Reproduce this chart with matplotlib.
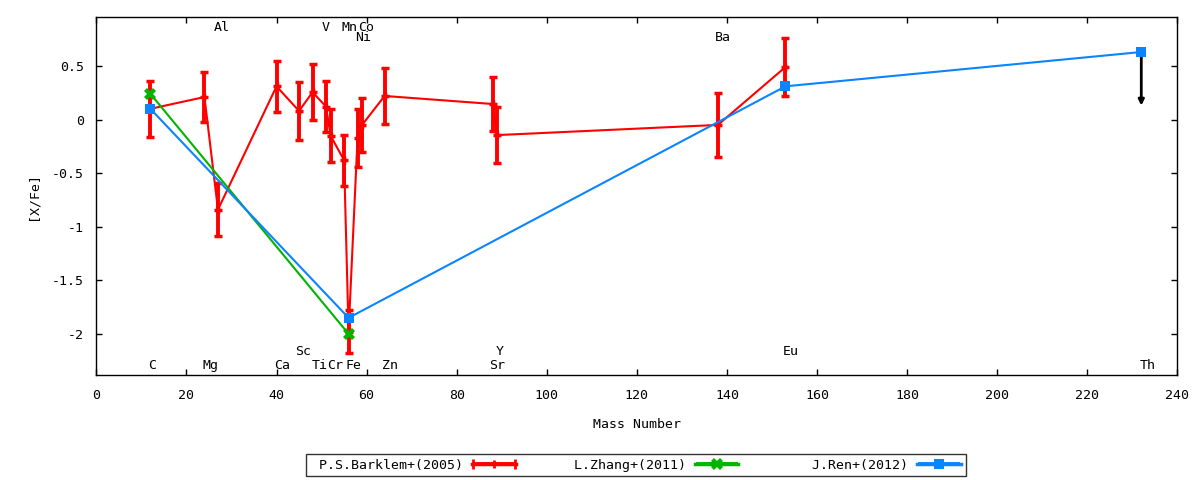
import numpy as np
import matplotlib
matplotlib.use("Agg")
import matplotlib.pyplot as plt
from matplotlib.ticker import FuncFormatter, MultipleLocator
from matplotlib.container import ErrorbarContainer
from matplotlib.legend_handler import HandlerErrorbar

# ---------------- data ----------------
barklem_mass = [12, 24, 27, 40, 45, 48, 51, 52, 55, 56, 58, 59, 64, 88, 89, 138, 153]
barklem_xfe = [0.10, 0.21, -0.84, 0.31, 0.08, 0.255, 0.12, -0.15, -0.38, -1.98,
               -0.17, -0.05, 0.22, 0.145, -0.145, -0.05, 0.49]
barklem_err = [0.26, 0.23, 0.25, 0.24, 0.27, 0.26, 0.24, 0.25, 0.24, 0.20,
               0.27, 0.255, 0.265, 0.25, 0.265, 0.30, 0.27]

zhang_mass = [12, 56]
zhang_xfe = [0.24, -2.00]

ren_mass = [12, 56, 153, 232]
ren_xfe = [0.10, -1.85, 0.31, 0.63]
ren_th_limit_to = 0.13   # upper-limit arrow end for Th

elements = ["C", "Mg", "Al", "Ca", "Sc", "Ti", "V", "Cr", "Mn", "Fe", "Co", "Ni",
            "Zn", "Sr", "Y", "Ba", "Eu", "Th"]
label_x = [12.3, 25.3, 27.9, 41.2, 46.0, 49.5, 51.0, 53.0, 56.2, 57.1, 59.8, 59.2,
           65.3, 89.0, 89.5, 139.0, 154.1, 233.5]
label_y = [-2.29, -2.29, 0.86, -2.29, -2.16, -2.29, 0.86, -2.29, 0.86, -2.29, 0.86, 0.77,
           -2.29, -2.29, -2.16, 0.77, -2.16, -2.29]

series_names = ["P.S.Barklem+(2005)", "L.Zhang+(2011)", "J.Ren+(2012)"]

# ---------------- style ----------------
RED = "#ff0000"
GREEN = "#00b400"
BLUE = "#0a84ff"
FS = 9.5
plt.rcParams["font.family"] = ["DejaVu Sans Mono", "DejaVu Sans"]
plt.rcParams["font.size"] = FS

fig = plt.figure(figsize=(12, 4.8), dpi=100)
ax = fig.add_axes([0.0803, 0.219, 0.9008, 0.745])

ax.errorbar(barklem_mass, barklem_xfe, yerr=barklem_err, color=RED, lw=1.5,
            elinewidth=2.8, capsize=3, capthick=2.8, marker="+", ms=6, mew=2.5,
            zorder=2)
ax.plot(zhang_mass, zhang_xfe, color=GREEN, lw=1.5, marker="X", ms=8, mew=0,
        zorder=3)
ax.annotate("", xy=(ren_mass[-1], ren_th_limit_to), xytext=(ren_mass[-1], ren_xfe[-1]),
            arrowprops=dict(arrowstyle="-|>", color="black", lw=2.0,
                            mutation_scale=8, shrinkA=0, shrinkB=0), zorder=3.5)
ax.plot(ren_mass, ren_xfe, color=BLUE, lw=1.5, marker="s", ms=7.5, mew=0, zorder=4)

for name, lx, ly in zip(elements, label_x, label_y):
    ax.text(lx, ly, name, ha="center", va="center", fontsize=FS, zorder=5)

ax.set_xlim(0, 240)
ax.set_ylim(-2.382, 0.954)
ax.xaxis.set_major_locator(MultipleLocator(20))
ax.yaxis.set_major_locator(MultipleLocator(0.5))
fmt = FuncFormatter(lambda v, _: "%g" % (0 if abs(v) < 1e-9 else v))
ax.xaxis.set_major_formatter(fmt)
ax.yaxis.set_major_formatter(fmt)
ax.tick_params(direction="in", length=4, width=1, top=True, right=True,
               labelsize=FS)
ax.tick_params(axis="x", pad=10)
ax.tick_params(axis="y", pad=9)
for s in ax.spines.values():
    s.set_linewidth(1)

ax.set_xlabel("Mass Number", fontsize=FS, labelpad=12)
ax.set_ylabel("[X/Fe]", fontsize=FS, labelpad=9)

# legend proxies (horizontal error-bar samples as in gnuplot)
proxies = []
for col, mk, ms in [(RED, "|", 6), (GREEN, "X", 8), (BLUE, "s", 7)]:
    c = ax.errorbar([np.nan], [np.nan], xerr=[[0], [0]], color=col, lw=2.5,
                    elinewidth=2.8, capsize=3.5, capthick=2.8, marker=mk, ms=ms,
                    mew=2 if mk == "|" else 0)
    proxies.append(c)
width = max(len(n) for n in series_names) + 1
leg_labels = [n.rjust(width) for n in series_names]
leg = fig.legend(proxies, leg_labels, loc="center", bbox_to_anchor=(0.53, 0.031),
                 ncol=3, markerfirst=False, fontsize=FS, frameon=True,
                 fancybox=False, edgecolor="black", borderpad=0.35,
                 handlelength=3.3, handletextpad=0.7, columnspacing=1.35,
                 borderaxespad=0,
                 handler_map={ErrorbarContainer: HandlerErrorbar(xerr_size=1.6, numpoints=1)})
leg.get_frame().set_linewidth(1)

fig.savefig("out.png", dpi=100)
